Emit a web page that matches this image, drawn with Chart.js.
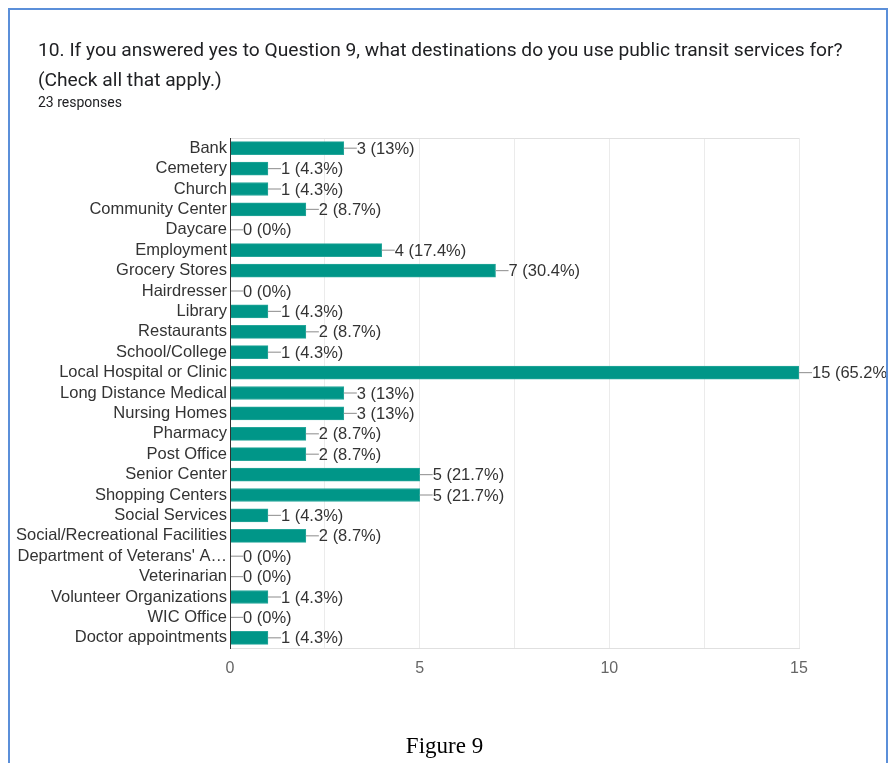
<!DOCTYPE html>
<html>
<head>
<meta charset="utf-8">
<script src="https://cdn.jsdelivr.net/npm/chart.js@4/dist/chart.umd.min.js"></script>
<style>
  body { margin: 0; background: #fff; width: 889px; height: 763px; overflow: hidden; position: relative; }
  #frame { position: absolute; left: 8px; top: 8px; width: 876px; height: 800px;
           border: 2px solid #5b8fd9; border-bottom: none; z-index: 2; pointer-events: none; }
  #title { position: absolute; left: 38px; top: 35px; font-family: Roboto, sans-serif; font-size: 19.2px;
           line-height: 30px; color: #202124; z-index: 3; white-space: nowrap; }
  #sub { position: absolute; left: 38px; top: 94px; font-family: Roboto, sans-serif; font-size: 14px; color: #202124; z-index: 3; }
  #fig { position: absolute; left: 0; width: 889px; top: 733px; text-align: center;
         font-family: "Liberation Serif", "Times New Roman", serif; font-size: 23px; color: #000; z-index: 3; }
  canvas { position: absolute; left: 0; top: 0; }
</style>
</head>
<body>
<div id="frame"></div>
<div id="title">10. If you answered yes to Question 9, what destinations do you use public transit services for?<br>(Check all that apply.)</div>
<div id="sub">23 responses</div>
<div id="fig">Figure 9</div>
<canvas id="mycanvas" width="889" height="763"></canvas>
<script>
var destinations = ['Bank', 'Cemetery', 'Church', 'Community Center', 'Daycare', 'Employment',
  'Grocery Stores', 'Hairdresser', 'Library', 'Restaurants', 'School/College',
  'Local Hospital or Clinic', 'Long Distance Medical', 'Nursing Homes', 'Pharmacy',
  'Post Office', 'Senior Center', 'Shopping Centers', 'Social Services',
  'Social/Recreational Facilities', 'Department of Veterans\' A\u2026', 'Veterinarian',
  'Volunteer Organizations', 'WIC Office', 'Doctor appointments'];
var counts = [3, 1, 1, 2, 0, 4, 7, 0, 1, 2, 1, 15, 3, 3, 2, 2, 5, 5, 1, 2, 0, 0, 1, 0, 1];
var totalResponses = 23;
var xTicks = [0, 5, 10, 15];

function pctText(v) {
  var p = Math.round(v / totalResponses * 1000) / 10;
  return v + ' (' + p + '%)';
}

// leader lines + "n (p%)" labels, plus the plot frame
var barLabels = {
  id: 'barLabels',
  beforeDatasetsDraw: function(chart) {
    var a = chart.chartArea, ctx = chart.ctx;
    ctx.save();
    ctx.strokeStyle = '#e0e0e0';
    ctx.lineWidth = 1;
    ctx.beginPath();
    ctx.moveTo(a.left, a.top + 0.5);
    ctx.lineTo(a.right, a.top + 0.5);
    ctx.stroke();
    ctx.restore();
  },
  afterDatasetsDraw: function(chart) {
    var ctx = chart.ctx, a = chart.chartArea;
    var meta = chart.getDatasetMeta(0);
    var xs = chart.scales.x;
    ctx.save();
    ctx.beginPath();
    ctx.rect(0, 0, 886, chart.height);
    ctx.clip();
    ctx.font = '16.5px "Liberation Sans", Arial, sans-serif';
    ctx.textBaseline = 'middle';
    meta.data.forEach(function(bar, i) {
      var x0 = xs.getPixelForValue(counts[i]);
      var y = bar.y;
      ctx.strokeStyle = '#9e9e9e';
      ctx.lineWidth = 1.2;
      ctx.beginPath();
      ctx.moveTo(x0, y);
      ctx.lineTo(x0 + 13, y);
      ctx.stroke();
      ctx.fillStyle = '#333';
      ctx.fillText(pctText(counts[i]), x0 + 13, y + 1);
    });
    // dark left axis line
    ctx.strokeStyle = '#333';
    ctx.lineWidth = 1;
    ctx.beginPath();
    ctx.moveTo(a.left + 0.5, a.top);
    ctx.lineTo(a.left + 0.5, a.bottom);
    ctx.stroke();
    ctx.restore();
  }
};

var ctx = document.getElementById('mycanvas');
var barGraph = new Chart(ctx, {
  type: 'bar',
  data: {
    labels: destinations,
    datasets: [{
      data: counts,
      backgroundColor: '#009688',
      borderColor: '#26a69a',
      borderWidth: 1,
      barThickness: 13
    }]
  },
  options: {
    indexAxis: 'y',
    responsive: false,
    animation: false,
    layout: { padding: { left: 0, right: 90, top: 138, bottom: 75 } },
    plugins: { legend: { display: false }, tooltip: { enabled: false } },
    scales: {
      x: {
        min: 0,
        max: 15,
        ticks: {
          stepSize: 2.5,
          padding: 11,
          color: '#666',
          font: { family: '"Liberation Sans", Arial, sans-serif', size: 16 },
          callback: function(v) { return xTicks.indexOf(v) >= 0 ? v : ''; }
        },
        grid: { color: '#ebebeb', drawTicks: false },
        border: { color: '#e0e0e0' },
        afterFit: function(s) { s.height = 40; }
      },
      y: {
        ticks: {
          padding: 3,
          autoSkip: false,
          color: '#333',
          font: { family: '"Liberation Sans", Arial, sans-serif', size: 16.5 }
        },
        grid: { display: false, drawTicks: false },
        border: { color: '#333' },
        afterFit: function(s) { s.width = 230; }
      }
    }
  },
  plugins: [barLabels]
});
</script>
</body>
</html>
